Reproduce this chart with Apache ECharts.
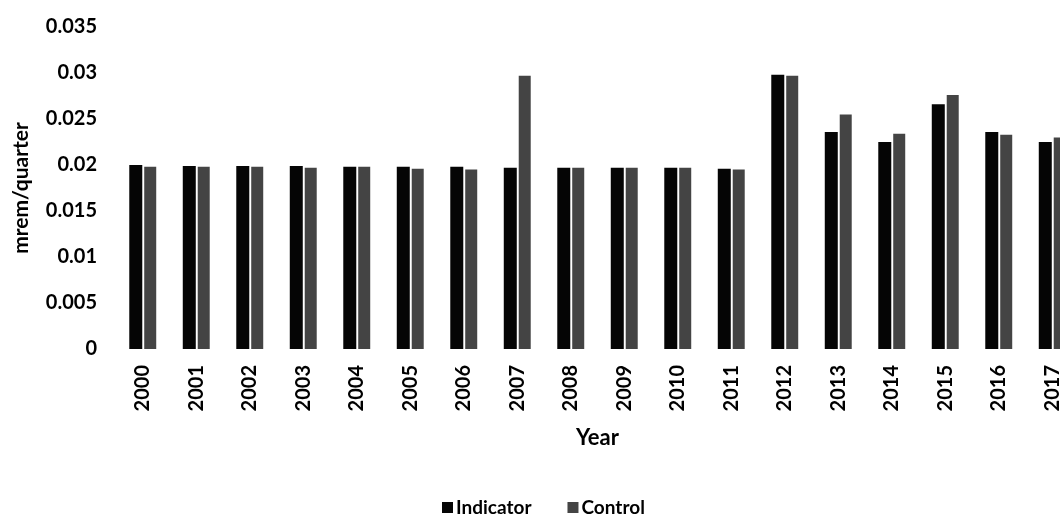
<!DOCTYPE html>
<html>
<head>
<meta charset="utf-8">
<script src="https://cdn.jsdelivr.net/npm/echarts@6/dist/echarts.min.js"></script>
<style>
  html, body { margin: 0; padding: 0; background: #fff; overflow: hidden; width: 1060px; height: 515px; }
  #chart { width: 1079px; height: 515px; }
</style>
</head>
<body>
<div id="chart"></div>
<script>
const years = ['2000','2001','2002','2003','2004','2005','2006','2007','2008','2009','2010','2011','2012','2013','2014','2015','2016','2017'];
const indicator = [0.0200,0.0199,0.0199,0.0199,0.0198,0.0198,0.0198,0.0197,0.0197,0.0197,0.0197,0.0196,0.0298,0.0236,0.0225,0.0266,0.0236,0.0225];
const control   = [0.0198,0.0198,0.0198,0.0197,0.0198,0.0196,0.0195,0.0297,0.0197,0.0197,0.0197,0.0195,0.0297,0.0255,0.0234,0.0276,0.0233,0.0230];
const yTicks = ['0','0.005','0.01','0.015','0.02','0.025','0.03','0.035'];

const font = 'Lato, "Open Sans", sans-serif';
const chart = echarts.init(document.getElementById('chart'), null, { renderer: 'canvas' });
chart.setOption({
  backgroundColor: '#ffffff',
  animation: false,
  textStyle: { fontFamily: font, color: '#000' },
  legend: {
    data: ['Indicator', 'Control'],
    left: 437,
    top: 493,
    itemWidth: 11,
    itemHeight: 11,
    itemGap: 36,
    icon: 'rect',
    textStyle: { fontFamily: font, fontSize: 19, fontWeight: 'bold', color: '#000', padding: [0, 0, 0, -2] }
  },
  grid: { left: 116, top: 27, right: 0, height: 322 },
  xAxis: {
    type: 'category',
    data: years,
    name: 'Year',
    nameLocation: 'middle',
    nameGap: 78,
    nameTextStyle: { fontFamily: font, fontSize: 22, fontWeight: 'bold', color: '#000' },
    axisLine: { show: false },
    axisTick: { show: false },
    axisLabel: { rotate: 90, margin: 16, fontFamily: font, fontSize: 20, fontWeight: 'bold', color: '#000' }
  },
  yAxis: {
    type: 'value',
    min: 0,
    max: 0.035,
    interval: 0.005,
    name: 'mrem/quarter',
    nameLocation: 'middle',
    nameGap: 84,
    nameTextStyle: { fontFamily: font, fontSize: 21, fontWeight: 'bold', color: '#000' },
    axisLine: { show: false },
    axisTick: { show: false },
    splitLine: { show: false },
    axisLabel: {
      margin: 19,
      fontFamily: font, fontSize: 20, fontWeight: 'bold', color: '#000',
      formatter: function (v) { return yTicks[Math.round(v / 0.005)]; }
    }
  },
  series: [
    { name: 'Indicator', type: 'bar', data: indicator, barWidth: 13, barGap: '15%', itemStyle: { color: '#050505' } },
    { name: 'Control', type: 'bar', data: control, barWidth: 12, barGap: '15%', itemStyle: { color: '#444444' } }
  ]
});
</script>
</body>
</html>
